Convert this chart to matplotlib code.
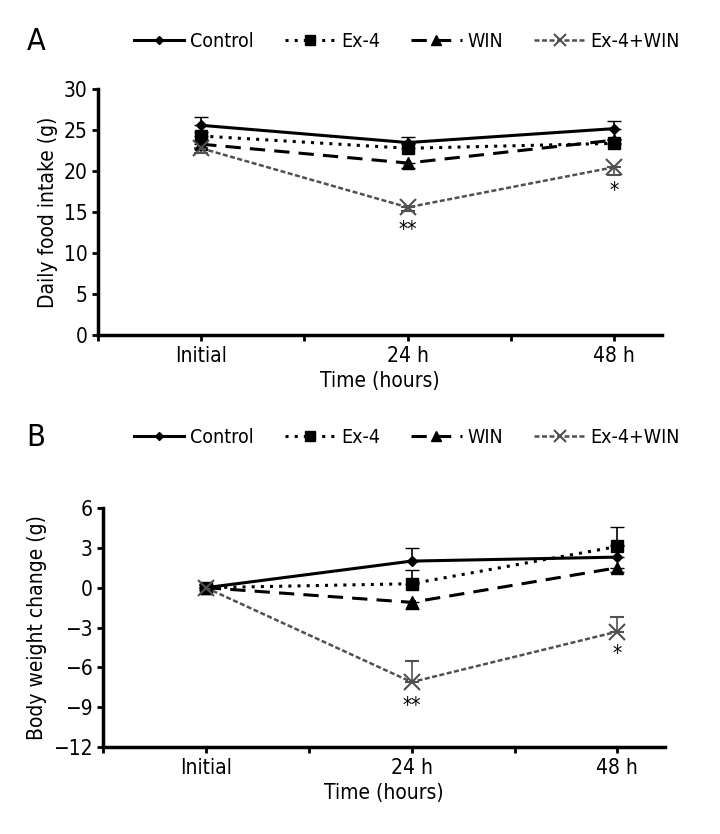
import matplotlib
matplotlib.use('Agg')
import matplotlib.pyplot as plt
from matplotlib.lines import Line2D

plt.rcParams['font.family'] = ['DejaVu Sans Condensed', 'Liberation Sans Narrow', 'DejaVu Sans']
plt.rcParams['font.stretch'] = 'condensed'

# time points (hours)
hours = [0, 24, 48]
tick_labels = ['Initial', '24 h', '48 h']
groups = ['Control', 'Ex-4', 'WIN', 'Ex-4+WIN']

# Panel A: daily food intake (g)
food_control = [25.6, 23.5, 25.2]
food_ex4 = [24.3, 22.8, 23.4]
food_win = [23.3, 21.0, 23.8]
food_combo = [22.8, 15.6, 20.5]
# (lower, upper) error bars
food_control_err = [[0, 0, 0], [1.0, 0.7, 0.9]]
food_ex4_err = [[0, 0, 0], [0.5, 0.5, 0.5]]
food_win_err = [[0.6, 0.6, 0.5], [0, 0, 0]]
food_combo_err = [[0.6, 0.4, 1.0], [0, 0, 0]]

# Panel B: body weight change (g)
bw_control = [0.0, 2.0, 2.3]
bw_ex4 = [0.0, 0.3, 3.1]
bw_win = [0.0, -1.1, 1.5]
bw_combo = [0.0, -7.1, -3.3]
bw_control_err = [[0, 0, 0], [0.2, 1.0, 0.9]]
bw_ex4_err = [[0, 0, 0], [0.2, 1.0, 1.5]]
bw_win_err = [[0.2, 0.5, 0.3], [0, 0, 0]]
bw_combo_err = [[0, 0, 0], [0.2, 1.6, 1.1]]

styles = [
    dict(color='black', ls='-', marker='D', ms=5, lw=2.2),
    dict(color='black', ls=(0, (1, 2)), marker='s', ms=9, lw=2.2),
    dict(color='black', ls=(0, (5, 3)), marker='^', ms=9, lw=2.2),
    dict(color='#505050', ls=(0, (2, 1)), marker='x', ms=11, lw=1.8, mew=1.5),
]

fig = plt.figure(figsize=(7.2, 8.34), dpi=100)
axA = fig.add_axes([0.136, 0.598, 0.783, 0.295])
axB = fig.add_axes([0.143, 0.104, 0.780, 0.287])


def draw(ax, series, errs):
    for vals, err, st in zip(series, errs, styles):
        ax.errorbar(hours, vals, yerr=err, color=st['color'], ls=st['ls'],
                    marker=st['marker'], ms=st['ms'], lw=st['lw'],
                    mew=st.get('mew', 1), capsize=5, elinewidth=1.2,
                    capthick=1.5)
    ax.set_xlim(-12, 53.5)
    ax.set_xticks([-12, 0, 12, 24, 36, 48])
    ax.set_xticklabels(['', tick_labels[0], '', tick_labels[1], '', tick_labels[2]])
    ax.spines['top'].set_visible(False)
    ax.spines['right'].set_visible(False)
    ax.spines['left'].set_linewidth(2.5)
    ax.spines['bottom'].set_linewidth(2.5)
    ax.tick_params(labelsize=15, width=2, length=4)
    ax.set_xlabel('Time (hours)', fontsize=15)


draw(axA, [food_control, food_ex4, food_win, food_combo],
     [food_control_err, food_ex4_err, food_win_err, food_combo_err])
axA.set_ylim(0, 30)
axA.set_yticks(range(0, 31, 5))
axA.set_ylabel('Daily food intake (g)', fontsize=15)
axA.text(24, 12.8, '**', ha='center', va='center', fontsize=15)
axA.text(48, 17.6, '*', ha='center', va='center', fontsize=15)

draw(axB, [bw_control, bw_ex4, bw_win, bw_combo],
     [bw_control_err, bw_ex4_err, bw_win_err, bw_combo_err])
axB.set_ylim(-12, 6)
axB.set_yticks(range(-12, 7, 3))
axB.set_ylabel('Body weight change (g)', fontsize=15)
axB.text(24, -8.9, '**', ha='center', va='center', fontsize=15)
axB.text(48, -5.0, '*', ha='center', va='center', fontsize=15)

handles = [Line2D([], [], color=st['color'], ls=st['ls'], marker=st['marker'],
                  ms=st['ms'] * 0.8, lw=st['lw'], mew=st.get('mew', 1))
           for st in styles]

for ax, ly in [(axA, 0.95), (axB, 0.476)]:
    ax.legend(handles, groups, loc='center', bbox_to_anchor=(0.565, ly),
              bbox_transform=fig.transFigure, ncol=4, frameon=False,
              fontsize=14, handlelength=2.6, columnspacing=1.6,
              handletextpad=0.3)

fig.text(0.05, 0.95, 'A', fontsize=22, ha='center', va='center')
fig.text(0.05, 0.476, 'B', fontsize=22, ha='center', va='center')

fig.savefig('out.png', dpi=100)
